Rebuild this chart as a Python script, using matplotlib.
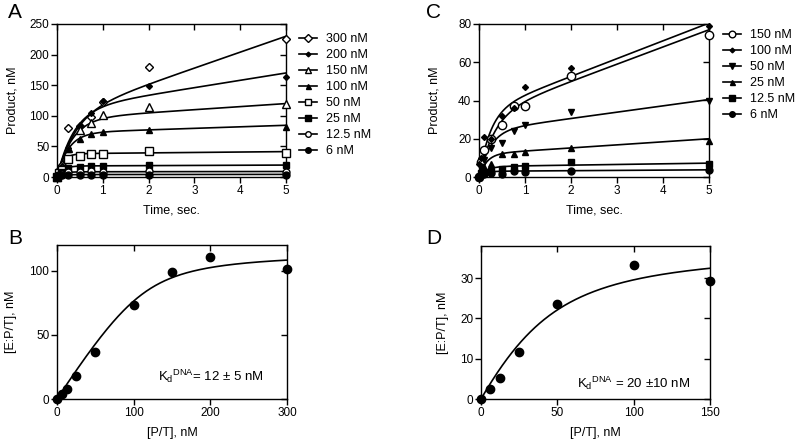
import numpy as np
import matplotlib
matplotlib.use("Agg")
import matplotlib.pyplot as plt

plt.rcParams['font.family'] = ['Liberation Sans', 'DejaVu Sans']
plt.rcParams['mathtext.fontset'] = 'custom'
plt.rcParams['mathtext.rm'] = 'Liberation Sans'
plt.rcParams['mathtext.it'] = 'Liberation Sans'
plt.rcParams['font.size'] = 9

# ---------------- Panel A data ----------------
time_pts = [0, 0.05, 0.1, 0.25, 0.5, 0.75, 1, 2, 5]
a_labels = ['300 nM', '200 nM', '150 nM', '100 nM', '50 nM', '25 nM', '12.5 nM', '6 nM']
a_300 = [0, 12, 20, 80, 83, 98, 122, 180, 226]
a_200 = [0, 10, 18, 47, 84, 105, 124, 148, 163]
a_150 = [0, 9, 17, 48, 76, 88, 101, 115, 120]
a_100 = [0, 8, 15, 45, 62, 70, 74, 77, 81]
a_50 = [0, 6, 12, 29, 35, 38, 38, 42, 40]
a_25 = [0, 4, 8, 15, 17, 18, 18, 19, 19]
a_12 = [0, 3, 5, 8, 8, 9, 8, 9, 8]
a_6 = [0, 2, 3, 4, 4, 4, 4, 4, 4]
# burst fit parameters: amplitude, rate (1/s), steady-state slope (nM/s)
a_amp = [100, 110, 95, 72, 38, 18, 8.5, 4]
a_rate = [2.5, 2.7, 3.0, 4.0, 8.0, 8.0, 8.0, 8.0]
a_slope = [26, 12, 5, 2.5, 0.7, 0.3, 0.1, 0.05]

# ---------------- Panel C data ----------------
c_labels = ['150 nM', '100 nM', '50 nM', '25 nM', '12.5 nM', '6 nM']
c_150 = [0, 8, 14, 20, 27, 37, 37, 53, 74]
c_100 = [7, 10, 21, 20, 32, 36, 47, 57, 79]
c_50 = [0, 5, 9, 15, 18, 24, 27, 34, 40]
c_25 = [0, 3, 5, 7, 12, 12, 13, 15, 19]
c_12 = [0, 2, 2.5, 3, 4, 5, 5.5, 8, 7]
c_6 = [0, 1, 1.5, 2, 1.5, 3, 2.5, 3, 3.5]
c_amp = [32, 34, 24, 12, 5.5, 3]
c_rate = [3.0, 4.0, 4.0, 6.0, 6.0, 8.0]
c_slope = [9, 9.3, 3.3, 1.6, 0.35, 0.15]

# ---------------- Panel B data ----------------
b_pt = [0, 6, 12.5, 25, 50, 100, 150, 200, 300]
b_ept = [0, 4, 8, 18, 37, 73, 99, 111, 101]
b_Emax, b_Kd = 115, 12

# ---------------- Panel D data ----------------
d_pt = [0, 6, 12.5, 25, 50, 100, 150]
d_ept = [0, 2.6, 5.2, 11.6, 23.7, 33.4, 29.2]
d_Emax, d_Kd = 38, 20

W, H = 800, 442
fig = plt.figure(figsize=(8, 4.42), dpi=100)


def rect(l, r, t, b):
    return [l / W, 1 - b / H, (r - l) / W, (b - t) / H]


def style(ax):
    for s in ax.spines.values():
        s.set_linewidth(1.0)
    ax.tick_params(direction='out', length=4, width=1, labelsize=8.5, pad=1.5)
    sx = ax.secondary_xaxis('top')
    sx.set_xticks(ax.get_xticks())
    sx.tick_params(direction='in', length=4, width=1, labeltop=False)
    sx.spines['top'].set_visible(False)
    sy = ax.secondary_yaxis('right')
    sy.set_yticks(ax.get_yticks())
    sy.tick_params(direction='in', length=4, width=1, labelright=False)
    sy.spines['right'].set_visible(False)


def burst(t, A, k, v):
    return A * (1 - np.exp(-k * t)) + v * t


def quad(D, E, Kd):
    s = E + D + Kd
    return (s - np.sqrt(s * s - 4 * E * D)) / 2


leg_kw = dict(frameon=False, fontsize=9, handlelength=1.4, handletextpad=0.8,
              labelspacing=0.32, borderaxespad=0, borderpad=0)

# ---------- A ----------
axA = fig.add_axes(rect(57, 286, 24, 177))
a_series = [a_300, a_200, a_150, a_100, a_50, a_25, a_12, a_6]
a_mk = [('D', 'white', 4.5), ('D', 'black', 3), ('^', 'white', 5.5), ('^', 'black', 4.5),
        ('s', 'white', 5.5), ('s', 'black', 5), ('o', 'white', 5), ('o', 'black', 5)]
tt = np.linspace(0, 5, 400)
handles = []
for i, y in enumerate(a_series):
    m, fc, ms = a_mk[i]
    axA.plot(tt, burst(tt, a_amp[i], a_rate[i], a_slope[i]), color='black', lw=1.2, zorder=2)
    axA.plot(time_pts, y, ls='none', marker=m, markerfacecolor=fc, markeredgecolor='black',
             markersize=ms, markeredgewidth=1.0, zorder=3, clip_on=False)
    h, = axA.plot([], [], color='black', lw=1.2, marker=m, markerfacecolor=fc,
                  markeredgecolor='black', markersize=ms * 0.8, markeredgewidth=1.0)
    handles.append(h)
axA.set_xlim(0, 5)
axA.set_ylim(0, 250)
axA.set_xticks([0, 1, 2, 3, 4, 5])
axA.set_yticks([0, 50, 100, 150, 200, 250])
axA.set_xlabel('Time, sec.', fontsize=9, labelpad=6)
axA.set_ylabel('Product, nM', fontsize=9, labelpad=8)
style(axA)
fig.legend(handles, a_labels, loc='upper left', bbox_to_anchor=(299 / W, 1 - 33 / H), **leg_kw)

# ---------- C ----------
axC = fig.add_axes(rect(479, 709, 24, 177))
c_series = [c_150, c_100, c_50, c_25, c_12, c_6]
c_mk = [('o', 'white', 6), ('D', 'black', 3), ('v', 'black', 5), ('^', 'black', 4.5),
        ('s', 'black', 5), ('o', 'black', 5)]
handlesC = []
for i, y in enumerate(c_series):
    m, fc, ms = c_mk[i]
    axC.plot(tt, burst(tt, c_amp[i], c_rate[i], c_slope[i]), color='black', lw=1.2, zorder=2)
    axC.plot(time_pts, y, ls='none', marker=m, markerfacecolor=fc, markeredgecolor='black',
             markersize=ms, markeredgewidth=1.0, zorder=3, clip_on=False)
    h, = axC.plot([], [], color='black', lw=1.2, marker=m, markerfacecolor=fc,
                  markeredgecolor='black', markersize=ms * 0.8, markeredgewidth=1.0)
    handlesC.append(h)
axC.set_xlim(0, 5)
axC.set_ylim(0, 80)
axC.set_xticks([0, 1, 2, 3, 4, 5])
axC.set_yticks([0, 20, 40, 60, 80])
axC.set_xlabel('Time, sec.', fontsize=9, labelpad=6)
axC.set_ylabel('Product, nM', fontsize=9, labelpad=13)
style(axC)
fig.legend(handlesC, c_labels, loc='upper left', bbox_to_anchor=(723 / W, 1 - 29 / H), **leg_kw)

# ---------- B ----------
axB = fig.add_axes(rect(57, 287, 245, 399))
xx = np.linspace(0, 300, 400)
axB.plot(xx, quad(xx, b_Emax, b_Kd), color='black', lw=1.2)
axB.plot(b_pt, b_ept, ls='none', marker='o', color='black', markersize=6, clip_on=False, zorder=3)
axB.set_xlim(0, 300)
axB.set_ylim(0, 120)
axB.set_xticks([0, 100, 200, 300])
axB.set_yticks([0, 50, 100])
axB.set_xlabel('[P/T], nM', fontsize=9, labelpad=6)
axB.set_ylabel('[E:P/T], nM', fontsize=9, labelpad=9)
axB.text(132, 18, r'K$_{\mathrm{d}}$$^{\mathrm{DNA}}$= 12 ± 5 nM', fontsize=9.5, va='center')
style(axB)

# ---------- D ----------
axD = fig.add_axes(rect(481, 710, 246, 399))
xd = np.linspace(0, 150, 400)
axD.plot(xd, quad(xd, d_Emax, d_Kd), color='black', lw=1.2)
axD.plot(d_pt, d_ept, ls='none', marker='o', color='black', markersize=6, clip_on=False, zorder=3)
axD.set_xlim(0, 150)
axD.set_ylim(0, 38)
axD.set_xticks([0, 50, 100, 150])
axD.set_yticks([0, 10, 20, 30])
axD.set_xlabel('[P/T], nM', fontsize=9, labelpad=6)
axD.set_ylabel('[E:P/T], nM', fontsize=9, labelpad=8)
axD.text(63, 4, r'K$_{\mathrm{d}}$$^{\mathrm{DNA}}$ = 20 ±10 nM', fontsize=9.5, va='center')
style(axD)

# panel letters
for lab, x, y in [('A', 8, 13), ('C', 426, 13), ('B', 8, 238), ('D', 426, 238)]:
    fig.text(x / W, 1 - y / H, lab, fontsize=15, va='center', ha='left')

fig.savefig('out.png', dpi=100)
